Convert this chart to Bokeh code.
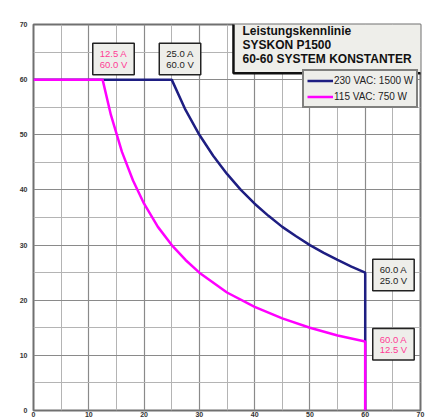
from bokeh.plotting import figure
from bokeh.models import Label, Legend, LegendItem, FixedTicker, Range1d
from bokeh.embed import file_html
from bokeh.resources import INLINE

# Data (current in A, voltage in V)
current_230 = [0, 25, 27.5, 30, 32.5, 35, 37.5, 40, 42.5, 45, 47.5, 50, 52.5, 55, 57.5, 60, 60]
voltage_230 = [60, 60, 54.5, 50, 46.2, 42.9, 40, 37.5, 35.3, 33.3, 31.6, 30, 28.6, 27.3, 26.1, 25, 0]

current_115 = [0, 12.5, 14, 16, 18, 20, 22.5, 25, 27.5, 30, 35, 40, 45, 50, 55, 60, 60]
voltage_115 = [60, 60, 53.6, 46.9, 41.7, 37.5, 33.3, 30, 27.3, 25, 21.4, 18.8, 16.7, 15, 13.6, 12.5, 0]

series_names = ["230 VAC: 1500 W", "115 VAC: 750 W"]
title_lines = ["Leistungskennlinie", "SYSKON P1500", "60-60 SYSTEM KONSTANTER"]
major_ticks = [0, 10, 20, 30, 40, 50, 60, 70]
minor_ticks = [5, 15, 25, 35, 45, 55, 65]

# annotation boxes: (current, voltage, text, color)
ann_x = [14.47, 26.5, 65.11, 65.11]
ann_y = [63.75, 63.75, 24.56, 12.0]
ann_text = ["12.5 A\n60.0 V", "25.0 A\n60.0 V", "60.0 A\n25.0 V", "60.0 A\n12.5 V"]
ann_color = ["#ff3c96", "#222222", "#222222", "#ff3c96"]

BLUE = "#1e1e82"
PINK = "#ff00ff"

p = figure(width=438, height=419, output_backend="svg", toolbar_location=None,
           x_range=Range1d(0, 70), y_range=Range1d(0, 70),
           min_border_left=33, min_border_right=18, min_border_top=24, min_border_bottom=0,
           background_fill_color="white", border_fill_color="white")

p.outline_line_color = "#707070"
p.outline_line_width = 2

for ax in (p.xaxis[0], p.yaxis[0]):
    ax.ticker = FixedTicker(ticks=major_ticks, minor_ticks=minor_ticks)
    ax.axis_line_color = None
    ax.major_tick_line_color = None
    ax.minor_tick_line_color = None
    ax.major_tick_out = 0
    ax.minor_tick_out = 0
    ax.major_label_text_font = "Liberation Sans"
    ax.major_label_text_font_size = "7px"
    ax.major_label_text_font_style = "bold"
    ax.major_label_text_color = "#333333"
p.yaxis.major_label_standoff = 6
p.xaxis.major_label_standoff = 1

for g in (p.xgrid[0], p.ygrid[0]):
    g.ticker = FixedTicker(ticks=major_ticks, minor_ticks=minor_ticks)
    g.grid_line_color = "#8a8a8a"
    g.grid_line_width = 1.2
    g.minor_grid_line_color = "#b4b4b4"
    g.minor_grid_line_width = 1

r1 = p.line(current_230, voltage_230, line_color=BLUE, line_width=2.5)
r2 = p.line(current_115, voltage_115, line_color=PINK, line_width=2.5)

for x, y, t, c in zip(ann_x, ann_y, ann_text, ann_color):
    p.add_layout(Label(x=x, y=y, text=t, text_align="center", text_baseline="middle",
                       text_font="Liberation Sans", text_font_size="9.5px", text_color=c,
                       text_line_height=0.95,
                       background_fill_color="#eeeeea", border_line_color="#222222",
                       border_line_width=1.5,
                       padding=dict(left=7, right=7, top=5, bottom=5)))

p.add_layout(Label(x=36.17, y=72.2, text="\n".join(title_lines),
                   text_align="left", text_baseline="top",
                   text_font="Liberation Sans", text_font_size="12px", text_font_style="bold",
                   text_color="#111111", text_line_height=1.0,
                   background_fill_color="#eeeeea", border_line_color="#111111",
                   border_line_width=2.5,
                   padding=dict(left=9, right=20, top=12, bottom=7)))

legend = Legend(items=[LegendItem(label=series_names[0], renderers=[r1]),
                       LegendItem(label=series_names[1], renderers=[r2])],
                location=(269, 302), orientation="vertical",
                label_text_font="Liberation Sans", label_text_font_size="10px",
                label_text_color="#222222", label_standoff=1, label_height=13,
                glyph_width=26, glyph_height=13, spacing=3, padding=3, margin=0,
                background_fill_color="#eeeeea", background_fill_alpha=1,
                border_line_color="#111111", border_line_width=2)
p.add_layout(legend, "center")

open("out.html", "w").write(file_html(p, INLINE))
